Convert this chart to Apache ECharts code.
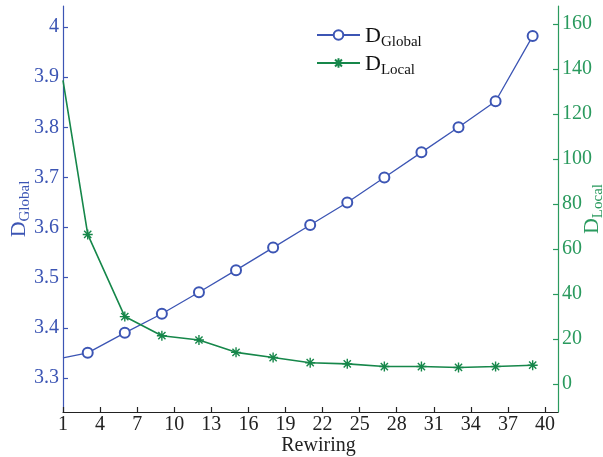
<!DOCTYPE html>
<html>
<head>
<meta charset="utf-8">
<script src="https://cdn.jsdelivr.net/npm/echarts@6/dist/echarts.min.js"></script>
<style>
  html, body { margin: 0; padding: 0; background: #fff; }
  #chart { width: 603px; height: 457px; }
</style>
</head>
<body>
<div id="chart"></div>
<script>
// rewiring steps (x) and the two measures
var xTicks = [1, 4, 7, 10, 13, 16, 19, 22, 25, 28, 31, 34, 37, 40]
var leftTicks = [3.3, 3.4, 3.5, 3.6, 3.7, 3.8, 3.9, 4.0]
var rightTicks = [0, 20, 40, 60, 80, 100, 120, 140, 160]
var rewiring = [1, 3, 6, 9, 12, 15, 18, 21, 24, 27, 30, 33, 36, 39]
var dGlobal = [3.34, 3.35, 3.39, 3.428, 3.471, 3.515, 3.56, 3.605, 3.65, 3.70, 3.75, 3.80, 3.852, 3.982]
var dLocal = [135, 66.5, 30, 21.5, 19.6, 14.1, 11.8, 9.5, 9.0, 7.8, 7.8, 7.4, 7.8, 8.4]

var blue = '#3c55b4'
var green = '#16874a'
var greenAxis = '#2a9a5e'
var serif = 'Liberation Serif'
var star = 'path://M0,-5L0,5M-5,0L5,0M-3.6,-3.6L3.6,3.6M-3.6,3.6L3.6,-3.6'

function pairs (ys) {
  // first point sits on the axis with no marker
  return rewiring.map(function (x, i) {
    var p = { value: [x, ys[i]] }
    if (i === 0) p.symbol = 'none'
    return p
  })
}

function subRich (color) {
  return {
    d: { fontFamily: serif, fontSize: 22, color: color, verticalAlign: 'bottom', lineHeight: 24 },
    s: { fontFamily: serif, fontSize: 15, color: color, verticalAlign: 'bottom', padding: [0, 0, -3, 0], lineHeight: 18 }
  }
}

var chart = echarts.init(document.getElementById('chart'))
chart.setOption({
  animation: false,
  textStyle: { fontFamily: serif },
  grid: { left: 63, right: 45, top: 6, bottom: 45, containLabel: false, outerBoundsMode: 'none' },
  legend: {
    left: 311,
    top: 20,
    orient: 'vertical',
    itemWidth: 43,
    itemHeight: 12,
    itemGap: 3,
    data: ['Global', 'Local'],
    formatter: function (name) { return '{d|D}{s|' + name + '}' },
    textStyle: { rich: subRich('#111') }
  },
  xAxis: {
    type: 'value',
    min: 1,
    max: 41.05,
    name: 'Rewiring',
    nameLocation: 'middle',
    nameGap: 24,
    nameMoveOverlap: false,
    nameTextStyle: { fontFamily: serif, fontSize: 20, color: '#222', padding: [0, 0, 0, 16] },
    axisLine: { onZero: false, lineStyle: { color: '#222', width: 1.2 } },
    axisTick: { inside: true, length: 5, customValues: xTicks, lineStyle: { color: '#222', width: 1.2 } },
    axisLabel: { customValues: xTicks, fontFamily: serif, fontSize: 20, color: '#222', margin: 3 },
    splitLine: { show: false }
  },
  yAxis: [
    {
      type: 'value',
      position: 'left',
      min: 3.232,
      max: 4.042,
      name: '{d|D}{s|Global}',
      nameLocation: 'middle',
      nameRotate: 90,
      nameGap: 33,
      nameMoveOverlap: false,
      nameTextStyle: { rich: subRich(blue) },
      axisLine: { show: true, onZero: false, lineStyle: { color: blue, width: 1.2 } },
      axisTick: { show: true, inside: true, length: 5, customValues: leftTicks, lineStyle: { color: blue, width: 1.2 } },
      axisLabel: {
        customValues: leftTicks,
        fontFamily: serif,
        fontSize: 20,
        color: blue,
        margin: 4,
        formatter: function (v) { return String(+v.toFixed(1)) }
      },
      splitLine: { show: false }
    },
    {
      type: 'value',
      position: 'right',
      min: -12.4,
      max: 168,
      name: '{d|D}{s|Local}',
      nameLocation: 'middle',
      nameRotate: 90,
      nameGap: 21,
      nameMoveOverlap: false,
      nameTextStyle: { rich: subRich(greenAxis) },
      axisLine: { show: true, onZero: false, lineStyle: { color: greenAxis, width: 1.2 } },
      axisTick: { show: true, inside: true, length: 5, customValues: rightTicks, lineStyle: { color: greenAxis, width: 1.2 } },
      axisLabel: { customValues: rightTicks, fontFamily: serif, fontSize: 20, color: greenAxis, margin: 4 },
      splitLine: { show: false }
    }
  ],
  series: [
    {
      name: 'Global',
      type: 'line',
      yAxisIndex: 0,
      data: pairs(dGlobal),
      symbol: 'emptyCircle',
      symbolSize: 10,
      lineStyle: { color: blue, width: 1.3 },
      itemStyle: { color: blue, borderColor: blue, borderWidth: 1.3 }
    },
    {
      name: 'Local',
      type: 'line',
      yAxisIndex: 1,
      data: pairs(dLocal),
      symbol: star,
      symbolSize: 10,
      lineStyle: { color: green, width: 1.6 },
      itemStyle: { color: green, borderColor: green, borderWidth: 1.4 }
    }
  ]
})
</script>
</body>
</html>
